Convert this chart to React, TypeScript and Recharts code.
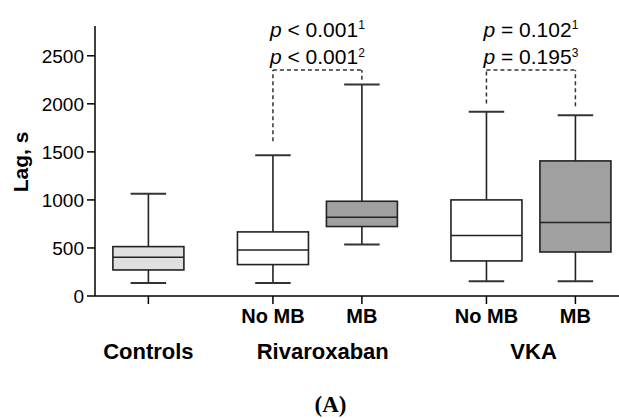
import React from 'react';
import { ComposedChart, Bar, XAxis, YAxis, ReferenceLine, ReferenceDot } from 'recharts';

// ---- data ----
const positions = [0, 1.4, 2.4, 3.8, 4.8];
const tickLabels = ['', 'No MB', 'MB', 'No MB', 'MB'];
const mins = [135, 135, 535, 153, 153];
const q1s = [271, 327, 723, 365, 458];
const medians = [403, 479, 820, 629, 765];
const q3s = [514, 667, 986, 1000, 1406];
const maxs = [1065, 1466, 2202, 1917, 1882];
const boxFills = ['#e0e0e0', '#ffffff', '#a0a0a0', '#ffffff', '#a0a0a0'];

const groupLabels = ['Controls', 'Rivaroxaban', 'VKA'];
const groupCenters = [0, 1.96, 4.33];

const yTicks = [0, 500, 1000, 1500, 2000, 2500];

const bracketLeft = [1.4, 3.8];
const bracketRight = [2.4, 4.8];
const bracketTop = [2351, 2351];
const bracketLowLeft = [1611, 2004];
const bracketLowRight = [2251, 1976];
const pRel1 = ['<', '='];
const pVal1 = ['0.001', '0.102'];
const pSup1 = ['1', '1'];
const pRel2 = ['<', '='];
const pVal2 = ['0.001', '0.195'];
const pSup2 = ['2', '3'];

const data = positions.map((p, i) => ({
  pos: p,
  range: [mins[i], maxs[i]],
  min: mins[i],
  q1: q1s[i],
  median: medians[i],
  q3: q3s[i],
  max: maxs[i],
  fill: boxFills[i],
}));

const FONT = '"Liberation Sans", Arial, Helvetica, sans-serif';

function BoxShape(props: any) {
  const { x, y, width, height, payload } = props;
  if (!payload) return null;
  const top = Math.min(y, y + height);
  const bottom = Math.max(y, y + height);
  const { min, q1, median, q3, max, fill } = payload;
  const py = (v: number) => bottom - ((v - min) / (max - min)) * (bottom - top);
  const cx = x + width / 2;
  const capHalf = width * 0.25;
  const stroke = '#222';
  return (
    <g>
      <line x1={cx} x2={cx} y1={py(max)} y2={py(q3)} stroke={stroke} strokeWidth={1.6} />
      <line x1={cx} x2={cx} y1={py(q1)} y2={py(min)} stroke={stroke} strokeWidth={1.6} />
      <line x1={cx - capHalf} x2={cx + capHalf} y1={py(max)} y2={py(max)} stroke="#333" strokeWidth={2} />
      <line x1={cx - capHalf} x2={cx + capHalf} y1={py(min)} y2={py(min)} stroke="#333" strokeWidth={2} />
      <rect x={x} y={py(q3)} width={width} height={py(q1) - py(q3)} fill={fill} stroke={stroke} strokeWidth={1.6} />
      <line x1={x} x2={x + width} y1={py(median)} y2={py(median)} stroke={stroke} strokeWidth={1.6} />
    </g>
  );
}

function XTick(props: any) {
  const { x, y, payload } = props;
  const idx = positions.indexOf(payload.value);
  const label = idx >= 0 ? tickLabels[idx] : '';
  return (
    <text x={x} y={y + 17} textAnchor="middle" fontSize={20} fontWeight="bold" fill="#000" fontFamily={FONT}>
      {label}
    </text>
  );
}

function YLabel(props: any) {
  const vb = props.viewBox || { x: 0, y: 26, width: 95, height: 270 };
  const tx = vb.x + 28;
  const ty = vb.y + vb.height / 2 + 1;
  return (
    <text x={tx} y={ty} transform={`rotate(-90, ${tx}, ${ty})`} textAnchor="middle" fontSize={21} fontWeight="bold" fill="#000" fontFamily={FONT}>
      Lag, s
    </text>
  );
}

function GroupLabel(props: any) {
  const vb = props.viewBox;
  if (!vb) return null;
  const cx = vb.x + vb.width / 2;
  const cy = vb.y + vb.height / 2;
  return (
    <text x={cx} y={cy + 63} textAnchor="middle" fontSize={22} fontWeight="bold" fill="#000" fontFamily={FONT}>
      {props.text}
    </text>
  );
}

function PLabel(props: any) {
  const vb = props.viewBox;
  if (!vb) return null;
  const cx = vb.x + vb.width / 2;
  const y = vb.y;
  const i = props.idx;
  return (
    <g fontFamily={FONT} fill="#000">
      <text x={cx} y={y - 33.5} textAnchor="middle" fontSize={21}>
        <tspan fontStyle="italic">p</tspan>
        <tspan>{` ${pRel1[i]} ${pVal1[i]}`}</tspan>
        <tspan fontSize={12} dy={-7.5}>{pSup1[i]}</tspan>
      </text>
      <text x={cx} y={y - 6} textAnchor="middle" fontSize={21}>
        <tspan fontStyle="italic">p</tspan>
        <tspan>{` ${pRel2[i]} ${pVal2[i]}`}</tspan>
        <tspan fontSize={12} dy={-7.5}>{pSup2[i]}</tspan>
      </text>
    </g>
  );
}

export default function App() {
  return (
    <div style={{ position: 'absolute', left: 0, top: 0, width: 619, height: 418, background: '#fff' }}>
      <ComposedChart
        width={619}
        height={418}
        data={data}
        margin={{ top: 26, right: 0, left: 0, bottom: 0 }}
        style={{ fontFamily: FONT }}
      >
        <XAxis
          type="number"
          dataKey="pos"
          domain={[-0.6, 5.29]}
          ticks={positions}
          allowDataOverflow
          interval={0}
          height={122}
          tickSize={8}
          tickMargin={2}
          tick={<XTick />}
          stroke="#000"
          strokeWidth={1.5}
          tickLine={{ stroke: '#000', strokeWidth: 1.5 }}
        />
        <YAxis
          type="number"
          domain={[0, 2810]}
          ticks={yTicks}
          allowDataOverflow
          interval={0}
          width={95}
          tickSize={8}
          tickMargin={3}
          tick={{ fontSize: 19, fill: '#000', fontFamily: FONT }}
          stroke="#000"
          strokeWidth={1.5}
          tickLine={{ stroke: '#000', strokeWidth: 1.5 }}
          label={<YLabel />}
        />
        <Bar dataKey="range" barSize={71} shape={<BoxShape />} isAnimationActive={false} />
        {bracketLeft.map((bx, i) => (
          <ReferenceLine
            key={`bl${i}`}
            segment={[{ x: bx, y: bracketLowLeft[i] }, { x: bx, y: bracketTop[i] }]}
            stroke="#333"
            strokeWidth={1.5}
            strokeDasharray="4 3"
            ifOverflow="visible"
          />
        ))}
        {bracketRight.map((bx, i) => (
          <ReferenceLine
            key={`br${i}`}
            segment={[{ x: bx, y: bracketLowRight[i] }, { x: bx, y: bracketTop[i] }]}
            stroke="#333"
            strokeWidth={1.5}
            strokeDasharray="4 3"
            ifOverflow="visible"
          />
        ))}
        {bracketLeft.map((bx, i) => (
          <ReferenceLine
            key={`bt${i}`}
            segment={[{ x: bx, y: bracketTop[i] }, { x: bracketRight[i], y: bracketTop[i] }]}
            stroke="#333"
            strokeWidth={1.5}
            strokeDasharray="4 3"
            ifOverflow="visible"
            label={<PLabel idx={i} />}
          />
        ))}
        {groupLabels.map((g, i) => (
          <ReferenceDot
            key={`g${i}`}
            x={groupCenters[i]}
            y={0}
            r={1}
            fill="none"
            stroke="none"
            ifOverflow="visible"
            label={<GroupLabel text={g} />}
          />
        ))}
      </ComposedChart>
      <div
        style={{
          position: 'absolute',
          left: 290,
          width: 81,
          top: 393,
          height: 23,
          lineHeight: '23px',
          textAlign: 'center',
          fontFamily: '"Liberation Serif", "Times New Roman", serif',
          fontWeight: 'bold',
          fontSize: 23,
          color: '#000',
        }}
      >
        (A)
      </div>
    </div>
  );
}
